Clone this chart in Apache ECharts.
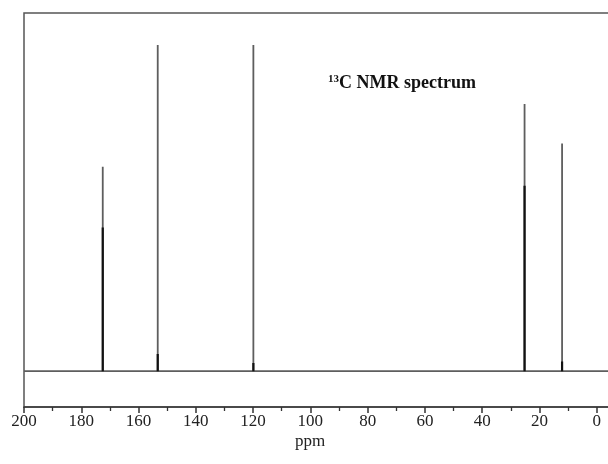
<!DOCTYPE html>
<html>
<head>
<meta charset="utf-8">
<script src="https://cdn.jsdelivr.net/npm/echarts@6/dist/echarts.min.js"></script>
<style>html,body{margin:0;padding:0;background:#fff;overflow:hidden;width:608px;height:464px}#c{width:660px;height:464px}</style>
</head>
<body>
<div id="c"></div>
<script>
// Peak positions (ppm) and heights (relative intensity)
var peakPpm = [172.5, 153.3, 119.9, 25.2, 12.1];
var peakHeight = [57.1, 91.1, 91.1, 74.6, 63.6];
// Inner darker component heights
var innerHeight = [40.1, 4.8, 2.3, 51.8, 2.7];
var xTicks = [200, 180, 160, 140, 120, 100, 80, 60, 40, 20, 0];
var xLabel = 'ppm';
var titleMain = 'C NMR spectrum';
var titleSup = '13';

var outer = [[200, 0]];
var inner = [];
for (var i = 0; i < peakPpm.length; i++) {
  outer.push([peakPpm[i], 0], [peakPpm[i], peakHeight[i]], [peakPpm[i], 0]);
  inner.push([peakPpm[i], 0], [peakPpm[i], innerHeight[i]], '-');
}
outer.push([-20, 0]);

var chart = echarts.init(document.getElementById('c'));
chart.setOption({
  animation: false,
  backgroundColor: '#fff',
  grid: {
    left: 24, top: 13, right: 6, bottom: 57,
    show: true, borderColor: '#555', borderWidth: 1.5, backgroundColor: 'transparent'
  },
  xAxis: {
    type: 'value', inverse: true, min: -20, max: 200, interval: 20,
    axisLine: { onZero: false, lineStyle: { color: '#3a3a3a', width: 1.6 } },
    axisTick: { length: 6, lineStyle: { color: '#333', width: 1.5 } },
    minorTick: { show: true, splitNumber: 2, length: 4, lineStyle: { color: '#333', width: 1.3 } },
    splitLine: { show: false },
    axisLabel: {
      margin: 6, color: '#222', fontFamily: 'Liberation Serif', fontSize: 17,
      formatter: function (v) { return xTicks.indexOf(v) >= 0 ? String(v) : ''; }
    }
  },
  yAxis: {
    type: 'value', min: -10, max: 100, show: false, splitLine: { show: false }
  },
  graphic: [
    { type: 'text', left: 295, top: 433, style: { text: xLabel, font: '17px "Liberation Serif"', fill: '#222' } },
    { type: 'text', left: 328, top: 74, style: {
        text: '{s|' + titleSup + '}{m|' + titleMain + '}',
        rich: {
          s: { font: 'bold 11px "Liberation Serif"', fill: '#111', verticalAlign: 'top', padding: [0, 0, 7, 0] },
          m: { font: 'bold 18px "Liberation Serif"', fill: '#111' }
        }
      } }
  ],
  series: [
    { type: 'line', data: outer, showSymbol: false, symbol: 'none',
      lineStyle: { color: '#5e5e5e', width: 1.8 } },
    { type: 'line', data: inner, showSymbol: false, symbol: 'none', connectNulls: false,
      lineStyle: { color: '#111', width: 2.2 } }
  ]
});
</script>
</body>
</html>
